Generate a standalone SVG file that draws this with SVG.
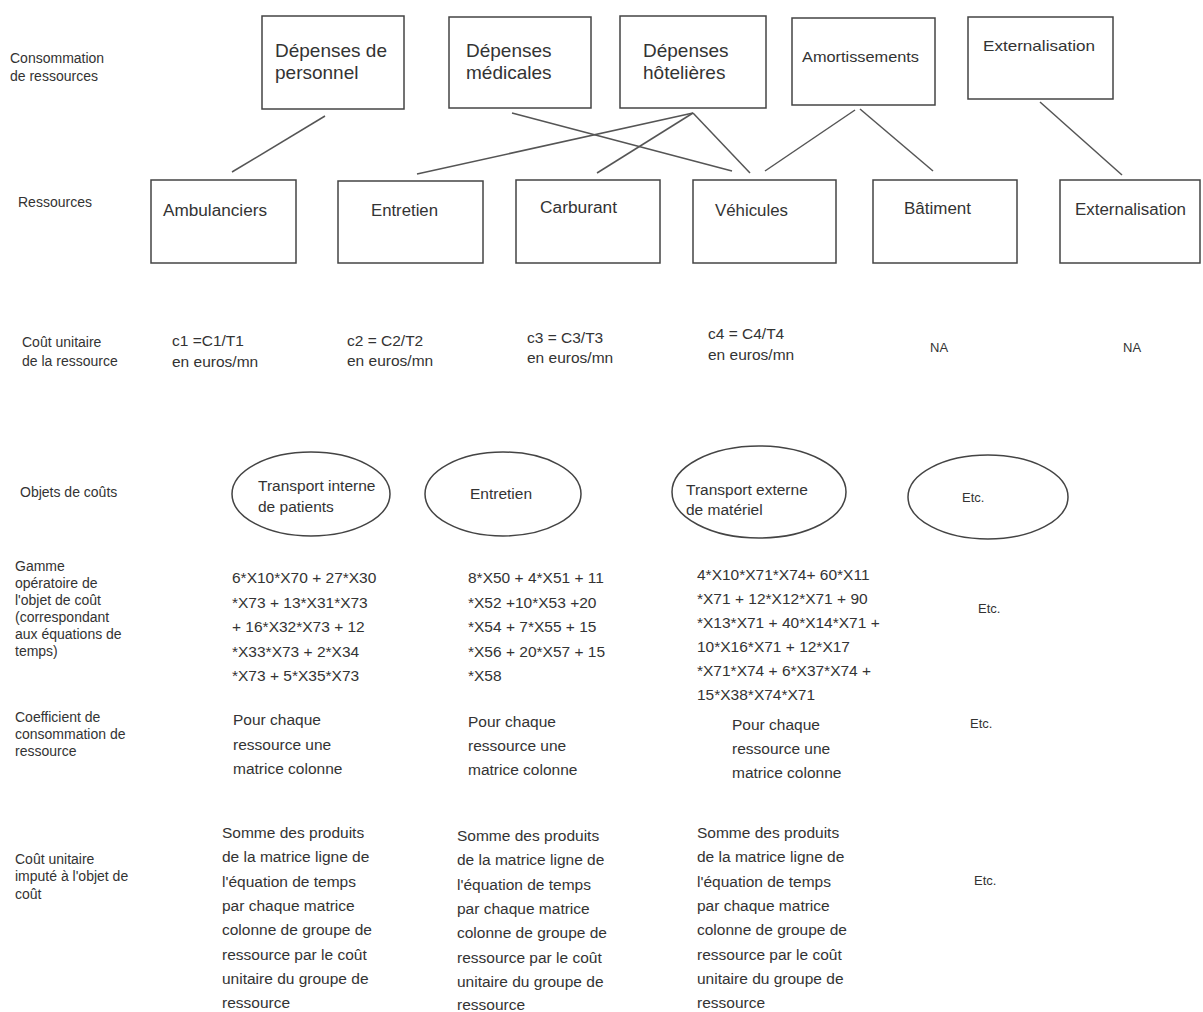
<svg xmlns="http://www.w3.org/2000/svg" width="1203" height="1012" viewBox="0 0 1203 1012">
<style>
text{font-family:"Liberation Sans",Arial,sans-serif;fill:#333}
.lbl{font-size:14px}
.node{font-size:16px}
.big{font-size:19px}
.txt{font-size:15.5px}
.sm{font-size:13px}
.box{fill:#fff;stroke:#444;stroke-width:1.5}
.ell{fill:#fff;stroke:#444;stroke-width:1.5}
.con line{stroke:#555;stroke-width:1.5}
</style>
<rect width="1203" height="1012" fill="#fff"/>

<g id="row-labels">
<text class="lbl" x="10" y="63">Consommation</text>
<text class="lbl" x="10" y="81">de ressources</text>
<text class="lbl" x="18" y="207">Ressources</text>
<text class="lbl" x="22" y="347">Coût unitaire</text>
<text class="lbl" x="22" y="366">de la ressource</text>
<text class="lbl" x="20" y="497">Objets de coûts</text>
<text class="lbl" x="15" y="571">Gamme</text>
<text class="lbl" x="15" y="588">opératoire de</text>
<text class="lbl" x="15" y="605">l'objet de coût</text>
<text class="lbl" x="15" y="622">(correspondant</text>
<text class="lbl" x="15" y="639">aux équations de</text>
<text class="lbl" x="15" y="656">temps)</text>
<text class="lbl" x="15" y="722">Coefficient de</text>
<text class="lbl" x="15" y="739">consommation de</text>
<text class="lbl" x="15" y="756">ressource</text>
<text class="lbl" x="15" y="864">Coût unitaire</text>
<text class="lbl" x="15" y="881">imputé à l'objet de</text>
<text class="lbl" x="15" y="899">coût</text>
</g>

<g id="connectors" class="con">
<line x1="325" y1="116" x2="232" y2="172"/>
<line x1="512" y1="113" x2="732" y2="171"/>
<line x1="693" y1="113" x2="417" y2="174"/>
<line x1="693" y1="113" x2="597" y2="173"/>
<line x1="693" y1="113" x2="750" y2="173"/>
<line x1="855" y1="110" x2="765" y2="171"/>
<line x1="860" y1="109" x2="933" y2="171"/>
<line x1="1040" y1="102" x2="1122" y2="175"/>
</g>

<g id="n-depenses-personnel">
<rect class="box" x="262" y="16" width="142" height="93"/>
<text class="big" x="275" y="57">Dépenses de</text>
<text class="big" x="275" y="79">personnel</text>
</g>
<g id="n-depenses-medicales">
<rect class="box" x="449" y="17" width="142" height="91"/>
<text class="big" x="466" y="57">Dépenses</text>
<text class="big" x="466" y="79">médicales</text>
</g>
<g id="n-depenses-hotelieres">
<rect class="box" x="620" y="16" width="146" height="92"/>
<text class="big" x="643" y="57">Dépenses</text>
<text class="big" x="643" y="79">hôtelières</text>
</g>
<g id="n-amortissements">
<rect class="box" x="792" y="18" width="143" height="87"/>
<text class="node" x="802" y="62" textLength="117" lengthAdjust="spacingAndGlyphs" style="font-size:14.5px">Amortissements</text>
</g>
<g id="n-externalisation-top">
<rect class="box" x="968" y="17" width="145" height="82"/>
<text class="node" x="983" y="51" textLength="112" lengthAdjust="spacingAndGlyphs" style="font-size:15px">Externalisation</text>
</g>

<g id="n-ambulanciers">
<rect class="box" x="151" y="180" width="145" height="83"/>
<text class="node" x="163" y="216" textLength="104" lengthAdjust="spacingAndGlyphs">Ambulanciers</text>
</g>
<g id="n-entretien-res">
<rect class="box" x="338" y="181" width="145" height="82"/>
<text class="node" x="371" y="216" textLength="67" lengthAdjust="spacingAndGlyphs">Entretien</text>
</g>
<g id="n-carburant">
<rect class="box" x="516" y="180" width="144" height="83"/>
<text class="node" x="540" y="213" textLength="77" lengthAdjust="spacingAndGlyphs">Carburant</text>
</g>
<g id="n-vehicules">
<rect class="box" x="693" y="180" width="143" height="83"/>
<text class="node" x="715" y="216" textLength="73" lengthAdjust="spacingAndGlyphs">Véhicules</text>
</g>
<g id="n-batiment">
<rect class="box" x="873" y="180" width="144" height="83"/>
<text class="node" x="904" y="214" textLength="67" lengthAdjust="spacingAndGlyphs">Bâtiment</text>
</g>
<g id="n-externalisation-res">
<rect class="box" x="1060" y="180" width="140" height="83"/>
<text class="node" x="1075" y="215" textLength="111" lengthAdjust="spacingAndGlyphs">Externalisation</text>
</g>

<g id="cost-unit-row">
<text class="txt" x="172" y="346">c1 =C1/T1</text>
<text class="txt" x="172" y="367">en euros/mn</text>
<text class="txt" x="347" y="346">c2 = C2/T2</text>
<text class="txt" x="347" y="366">en euros/mn</text>
<text class="txt" x="527" y="343">c3 = C3/T3</text>
<text class="txt" x="527" y="363">en euros/mn</text>
<text class="txt" x="708" y="339">c4 = C4/T4</text>
<text class="txt" x="708" y="360">en euros/mn</text>
<text class="sm" x="930" y="352">NA</text>
<text class="sm" x="1123" y="352">NA</text>
</g>

<g id="o-transport-interne">
<ellipse class="ell" cx="311" cy="494" rx="79" ry="42"/>
<text class="txt" x="258" y="491">Transport interne</text>
<text class="txt" x="258" y="512">de patients</text>
</g>
<g id="o-entretien">
<ellipse class="ell" cx="503" cy="494" rx="78" ry="42"/>
<text class="txt" x="470" y="499">Entretien</text>
</g>
<g id="o-transport-externe">
<ellipse class="ell" cx="759" cy="492" rx="87" ry="46"/>
<text class="txt" x="686" y="495">Transport externe</text>
<text class="txt" x="686" y="515">de matériel</text>
</g>
<g id="o-etc">
<ellipse class="ell" cx="988" cy="497" rx="80" ry="42"/>
<text class="sm" x="962" y="502">Etc.</text>
</g>

<g id="gamme-row">
<text class="txt" x="232" y="583">6*X10*X70 + 27*X30</text>
<text class="txt" x="232" y="607.5">*X73 + 13*X31*X73</text>
<text class="txt" x="232" y="632">+ 16*X32*X73 + 12</text>
<text class="txt" x="232" y="656.5">*X33*X73 + 2*X34</text>
<text class="txt" x="232" y="681">*X73 + 5*X35*X73</text>
<text class="txt" x="468" y="583">8*X50 + 4*X51 + 11</text>
<text class="txt" x="468" y="607.5">*X52 +10*X53 +20</text>
<text class="txt" x="468" y="632">*X54 + 7*X55 + 15</text>
<text class="txt" x="468" y="656.5">*X56 + 20*X57 + 15</text>
<text class="txt" x="468" y="681">*X58</text>
<text class="txt" x="697" y="580">4*X10*X71*X74+ 60*X11</text>
<text class="txt" x="697" y="604">*X71 + 12*X12*X71 + 90</text>
<text class="txt" x="697" y="628">*X13*X71 + 40*X14*X71 +</text>
<text class="txt" x="697" y="652">10*X16*X71 + 12*X17</text>
<text class="txt" x="697" y="676">*X71*X74 + 6*X37*X74 +</text>
<text class="txt" x="697" y="700">15*X38*X74*X71</text>
<text class="sm" x="978" y="613">Etc.</text>
</g>

<g id="coef-row">
<text class="txt" x="233" y="725">Pour chaque</text>
<text class="txt" x="233" y="749.5">ressource une</text>
<text class="txt" x="233" y="774">matrice colonne</text>
<text class="txt" x="468" y="727">Pour chaque</text>
<text class="txt" x="468" y="751">ressource une</text>
<text class="txt" x="468" y="775">matrice colonne</text>
<text class="txt" x="732" y="730">Pour chaque</text>
<text class="txt" x="732" y="754">ressource une</text>
<text class="txt" x="732" y="778">matrice colonne</text>
<text class="sm" x="970" y="728">Etc.</text>
</g>

<g id="imputed-row">
<text class="txt" x="222" y="838">Somme des produits</text>
<text class="txt" x="222" y="862">de la matrice ligne de</text>
<text class="txt" x="222" y="887">l'équation de temps</text>
<text class="txt" x="222" y="911">par chaque matrice</text>
<text class="txt" x="222" y="935">colonne de groupe de</text>
<text class="txt" x="222" y="960">ressource par le coût</text>
<text class="txt" x="222" y="984">unitaire du groupe de</text>
<text class="txt" x="222" y="1008">ressource</text>
<text class="txt" x="457" y="841">Somme des produits</text>
<text class="txt" x="457" y="865">de la matrice ligne de</text>
<text class="txt" x="457" y="890">l'équation de temps</text>
<text class="txt" x="457" y="914">par chaque matrice</text>
<text class="txt" x="457" y="938">colonne de groupe de</text>
<text class="txt" x="457" y="963">ressource par le coût</text>
<text class="txt" x="457" y="987">unitaire du groupe de</text>
<text class="txt" x="457" y="1010">ressource</text>
<text class="txt" x="697" y="838">Somme des produits</text>
<text class="txt" x="697" y="862">de la matrice ligne de</text>
<text class="txt" x="697" y="887">l'équation de temps</text>
<text class="txt" x="697" y="911">par chaque matrice</text>
<text class="txt" x="697" y="935">colonne de groupe de</text>
<text class="txt" x="697" y="960">ressource par le coût</text>
<text class="txt" x="697" y="984">unitaire du groupe de</text>
<text class="txt" x="697" y="1008">ressource</text>
<text class="sm" x="974" y="885">Etc.</text>
</g>
</svg>
